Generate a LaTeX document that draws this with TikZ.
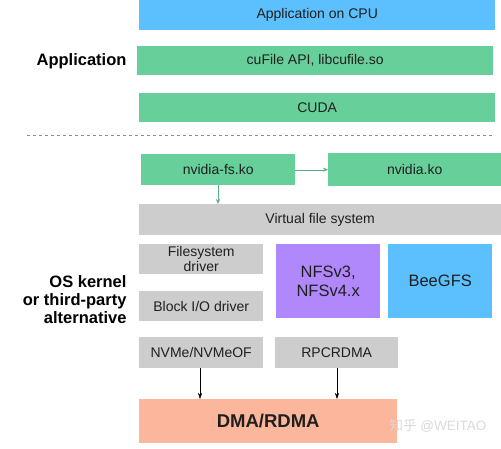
\documentclass[tikz,border=0pt]{standalone}
\usepackage{fontspec}
\setmainfont{Liberation Sans}
\newfontfamily\cjk{Noto Sans CJK SC}
\usetikzlibrary{arrows.meta}
\definecolor{cpublue}{HTML}{5BC0FD}
\definecolor{gdsgreen}{HTML}{66CF9A}
\definecolor{kgray}{HTML}{CDCDCD}
\definecolor{nfspurple}{HTML}{B187FC}
\definecolor{dmasalmon}{HTML}{FBB69B}
\tikzset{
  layer/.style={anchor=north west,inner sep=0pt,align=center,text=black!88,font=\fontsize{14}{16}\selectfont},
  small/.style={font=\fontsize{14}{15.5}\selectfont},
  big/.style={font=\fontsize{16.5}{19}\selectfont},
  side/.style={anchor=east,align=right,font=\bfseries\fontsize{16.5}{18}\selectfont}
}
\begin{document}
\begin{tikzpicture}[x=1pt,y=-1pt]
    \useasboundingbox (0,0) rectangle (501,448);
    %% application
    \node[layer,fill=cpublue,minimum width=356,minimum height=30] (cpu) at (139,0) {Application on CPU};
    \node[layer,fill=gdsgreen,minimum width=356,minimum height=29] (cufile) at (137,46) {cuFile API, libcufile.so};
    \node[layer,fill=gdsgreen,minimum width=356,minimum height=29] (cuda) at (139,93) {CUDA};
    \node[side] (app) at (130,61) {Application};
    \draw[black!45,dashed] (27,135) -- (495,135);
    %% kernel
    \node[layer,fill=gdsgreen,minimum width=154,minimum height=31] (nvfs) at (141,154) {nvidia-fs.ko};
    \node[layer,fill=gdsgreen,minimum width=173,minimum height=33] (nvko) at (328,153) {nvidia.ko};
    \node[layer,fill=kgray,minimum width=362,minimum height=31] (vfs) at (139,204) {Virtual file system};
    \draw[gdsgreen!85!black,-{Stealth[length=5pt,width=4pt]}] (nvfs.east) -- (nvko.west|-nvfs.east);
    \draw[gdsgreen!85!black,-{Stealth[length=5pt,width=4pt]}] (nvfs.south-|218,0) -- (vfs.north-|218,0);
    \node[layer,small,fill=kgray,minimum width=124,minimum height=30] (fsdrv) at (139,244) {Filesystem\\driver};
    \node[layer,small,fill=kgray,minimum width=124,minimum height=30] (blkdrv) at (139,291) {Block I/O driver};
    \node[layer,big,fill=nfspurple,minimum width=104,minimum height=74] (nfs) at (276,244) {NFSv3,\\NFSv4.x};
    \node[layer,big,fill=cpublue,minimum width=104,minimum height=74] (beegfs) at (388,244) {BeeGFS};
    \node[side] (oskernel) at (130,300) {OS kernel\\or third-party\\alternative};
    %% transport
    \node[layer,small,fill=kgray,minimum width=124,minimum height=31] (nvme) at (139,337) {NVMe/NVMeOF};
    \node[layer,small,fill=kgray,minimum width=123,minimum height=31] (rpc) at (275,337) {RPCRDMA};
    \node[layer,font=\bfseries\fontsize{18.5}{20}\selectfont,fill=dmasalmon,minimum width=258,minimum height=44] (dma) at (139,399) {DMA/RDMA};
    \draw[-{Stealth[length=6pt,width=4pt]}] (nvme.south-|200,0) -- (dma.north-|200,0);
    \draw[-{Stealth[length=6pt,width=4pt]}] (rpc.south-|337,0) -- (dma.north-|337,0);
    \node[text=black!15,font=\fontsize{13.5}{15}\selectfont] (mark) at (438,426) {{\cjk 知乎} @WEITAO};
\end{tikzpicture}
\end{document}
